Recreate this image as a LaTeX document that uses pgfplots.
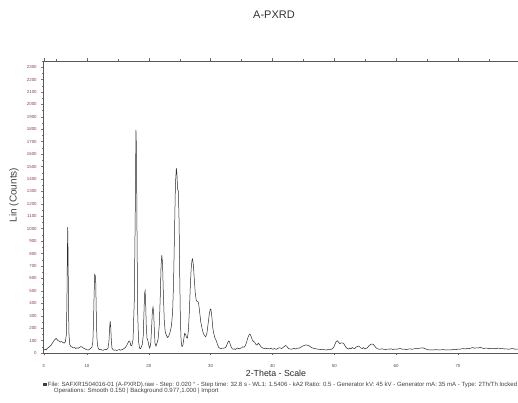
\documentclass[border=0pt]{standalone}
\usepackage{pgfplots}
\pgfplotsset{compat=1.18}
\usepackage{fontspec}
\setmainfont{Liberation Sans}
\usepackage{graphicx}
\definecolor{tickred}{RGB}{140,60,80}
\definecolor{trace}{RGB}{40,40,40}

\begin{document}
\begin{tikzpicture}[x=1pt,y=1pt]
\useasboundingbox (0,0) rectangle (518,403);
\begin{axis}[
  at={(43.7pt,50pt)}, anchor=south west,
  scale only axis, width=476.1pt, height=292.1pt,
  xmin=3, xmax=80, ymin=0, ymax=2350,
  xtick={3,10,20,30,40,50,60,70},
  minor xtick={5,15,25,35,45,55,65,75},
  ytick distance=100, minor y tick num=1,
  ytick pos=left,
  tick align=outside,
  major tick length=2.5pt, minor tick length=1.5pt,
  tick style={black!60, line width=0.4pt},
  y tick style={tickred!80},
  tick label style={font=\fontsize{4.4}{4.4}\selectfont},
  yticklabel style={text=tickred, xshift=-1pt},
  xticklabel style={text=black!70, yshift=-5pt},
  axis line style={black!65, line width=0.5pt},
  /pgf/number format/assume math mode=true,
  /pgf/number format/1000 sep={},
  scaled y ticks=false,
]
\addplot[trace, line width=0.5pt] table {
3.00 22
3.20 30
3.40 26
3.60 38
3.80 45
4.00 55
4.20 62
4.40 80
4.60 95
4.80 108
5.00 118
5.10 112
5.30 100
5.50 96
5.70 88
5.90 92
6.10 85
6.30 80
6.50 90
6.65 140
6.75 380
6.82 760
6.88 1013
6.94 820
7.00 420
7.08 160
7.20 70
7.40 52
7.60 48
7.80 40
8.00 44
8.20 36
8.40 42
8.60 38
8.80 45
9.00 52
9.20 48
9.40 40
9.60 36
9.80 30
10.00 26
10.20 24
10.40 30
10.60 36
10.80 48
10.95 90
11.05 230
11.15 470
11.25 630
11.35 620
11.42 560
11.50 330
11.60 130
11.70 60
11.85 34
12.00 28
12.20 30
12.40 24
12.60 22
12.80 26
13.00 30
13.20 28
13.40 40
13.55 90
13.65 190
13.75 257
13.85 200
13.95 90
14.05 40
14.20 26
14.40 22
14.60 25
14.80 20
15.00 24
15.20 28
15.40 22
15.60 26
15.80 30
16.00 36
16.20 44
16.40 58
16.60 78
16.80 97
16.95 90
17.10 60
17.25 58
17.45 110
17.65 420
17.80 1100
17.92 1794
18.00 1650
18.10 900
18.20 320
18.35 90
18.50 40
18.65 34
18.80 50
18.95 70
19.10 140
19.22 330
19.32 480
19.40 500
19.48 420
19.58 230
19.70 120
19.85 100
20.00 60
20.15 40
20.30 70
20.45 200
20.58 340
20.68 370
20.78 330
20.90 180
21.00 80
21.15 55
21.30 75
21.50 110
21.70 230
21.85 450
21.98 700
22.10 788
22.22 720
22.35 480
22.50 260
22.65 170
22.85 140
23.05 125
23.25 140
23.45 170
23.65 215
23.85 330
24.00 560
24.15 950
24.30 1350
24.45 1488
24.55 1440
24.65 1320
24.78 1300
24.90 1050
25.00 620
25.10 280
25.22 100
25.35 52
25.50 60
25.65 110
25.80 158
25.95 150
26.10 125
26.25 120
26.40 180
26.55 330
26.70 520
26.85 680
26.98 745
27.08 756
27.20 710
27.35 600
27.50 490
27.65 430
27.80 415
27.95 413
28.05 400
28.20 340
28.40 250
28.60 200
28.80 160
29.00 140
29.20 130
29.40 160
29.60 240
29.80 320
29.95 354
30.05 350
30.20 290
30.35 200
30.50 158
30.70 120
30.90 100
31.10 70
31.30 45
31.50 38
31.70 36
31.90 40
32.10 38
32.30 42
32.50 50
32.70 75
32.90 97
33.05 90
33.20 65
33.40 40
33.60 30
33.80 34
34.00 28
34.20 36
34.40 40
34.60 32
34.80 38
35.00 42
35.20 50
35.40 46
35.60 58
35.80 85
36.00 120
36.20 145
36.35 153
36.50 140
36.70 110
36.90 92
37.10 88
37.30 70
37.50 64
37.70 78
37.90 70
38.10 52
38.30 44
38.50 38
38.70 36
38.90 40
39.10 34
39.30 36
39.50 32
39.70 38
39.90 34
40.10 30
40.30 36
40.50 32
40.70 30
40.90 38
41.10 42
41.30 40
41.50 36
41.70 44
41.90 52
42.10 60
42.30 55
42.50 40
42.70 34
42.90 32
43.10 30
43.30 34
43.50 38
43.70 32
43.90 36
44.10 40
44.30 38
44.50 44
44.70 50
44.90 56
45.10 60
45.40 65
45.70 62
46.00 55
46.30 44
46.60 38
46.90 36
47.20 32
47.50 30
47.80 28
48.10 30
48.40 26
48.70 24
49.00 28
49.30 26
49.60 32
49.90 45
50.10 70
50.30 92
50.50 99
50.70 85
50.90 75
51.10 82
51.30 80
51.50 78
51.70 60
51.90 45
52.10 36
52.30 32
52.50 40
52.70 34
52.90 44
53.10 38
53.30 36
53.50 46
53.70 52
53.90 56
54.10 50
54.30 40
54.50 36
54.70 44
54.90 32
55.10 36
55.30 40
55.50 52
55.70 62
55.90 70
56.10 72
56.30 70
56.50 58
56.70 45
56.90 36
57.10 32
57.40 30
57.70 34
58.00 30
58.30 28
58.60 32
58.90 30
59.20 34
59.50 28
59.80 32
60.10 30
60.40 34
60.70 36
61.00 30
61.30 32
61.60 28
61.90 30
62.20 34
62.50 30
62.80 32
63.10 36
63.40 34
63.70 38
64.00 40
64.30 42
64.60 36
64.90 30
65.20 26
65.50 24
65.80 26
66.10 24
66.40 28
66.70 26
67.00 24
67.30 26
67.60 28
67.90 25
68.20 24
68.50 26
68.80 24
69.10 28
69.40 30
69.70 26
70.00 32
70.30 30
70.60 34
70.90 36
71.20 32
71.50 38
71.80 34
72.10 40
72.40 44
72.70 38
73.00 42
73.30 40
73.60 46
73.90 40
74.20 36
74.50 40
74.80 38
75.10 34
75.40 36
75.70 38
76.00 34
76.30 36
76.60 40
76.90 34
77.20 36
77.50 32
77.80 34
78.10 30
78.40 32
78.70 36
79.00 34
79.30 30
79.60 32
79.90 30
};
\end{axis}
% titles and labels
\node[font=\fontsize{11}{11}\selectfont, text=black!80] at (274,388) {A-PXRD};
\node[font=\fontsize{10}{10}\selectfont, text=black!75, rotate=90] at (14,208) {Lin (Counts)};
\node[font=\fontsize{8.8}{8.8}\selectfont, text=black!85] at (276,30) {2-Theta - Scale};
% scan information
\node[anchor=north west, inner sep=0pt, text=black!75] at (43,22) {\resizebox{474pt}{!}{%
  \begin{tabular}{@{}l@{\,}l@{}}
  \rule{0.6em}{0.6em} & File: SAFXR1504016-01 (A-PXRD).raw - Step: 0.020 ° - Step time: 32.8 s - WL1: 1.5406 - kA2 Ratio: 0.5 - Generator kV: 45 kV - Generator mA: 35 mA - Type: 2Th/Th locked\\[-1pt]
  & \hspace{1em}Operations: Smooth 0.150 | Background 0.977,1.000 | Import
  \end{tabular}}};
\end{tikzpicture}
\end{document}
